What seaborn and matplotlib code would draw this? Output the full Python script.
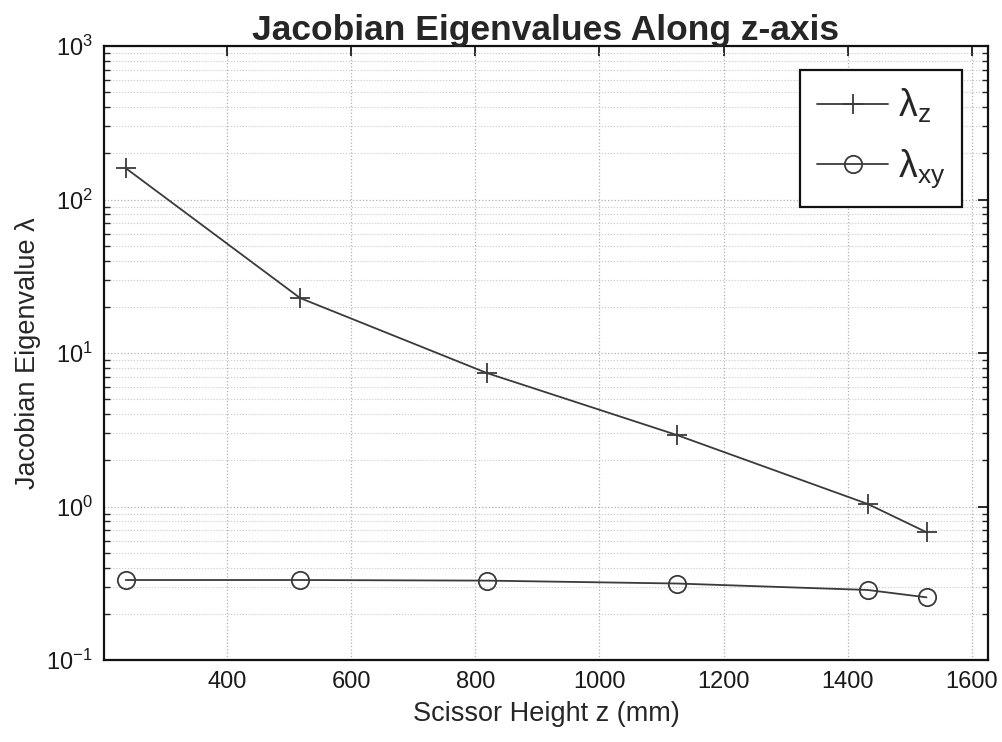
import matplotlib
matplotlib.use("Agg")
import matplotlib.pyplot as plt
import seaborn as sns
import pandas as pd
from matplotlib.ticker import LogLocator, LogFormatterMathtext

height_mm = [237, 518, 819, 1125, 1432, 1527]
lambda_z = [160, 22.8, 7.4, 2.92, 1.04, 0.68]
lambda_xy = [0.332, 0.332, 0.329, 0.315, 0.286, 0.256]
x_ticks = [400, 600, 800, 1000, 1200, 1400, 1600]
series_labels = ["λ$_{\\mathrm{z}}$", "λ$_{\\mathrm{xy}}$"]

sns.set_theme(style="white")
plt.rcParams['font.family'] = ['Liberation Sans', 'DejaVu Sans']
plt.rcParams['mathtext.fontset'] = 'custom'
plt.rcParams['mathtext.rm'] = 'Liberation Sans'
plt.rcParams['mathtext.it'] = 'Liberation Sans:italic'
plt.rcParams['mathtext.bf'] = 'Liberation Sans:bold'

df_z = pd.DataFrame({"z": height_mm, "val": lambda_z})
df_xy = pd.DataFrame({"z": height_mm, "val": lambda_xy})

fig = plt.figure(figsize=(10.03, 7.42), dpi=100)
ax = fig.add_axes([0.1037, 0.1105, 0.8813, 0.8275])

line_col = "#3a3a3a"
sns.lineplot(data=df_z, x="z", y="val", ax=ax, color=line_col, marker="+",
             markersize=14, linewidth=1.3, markeredgewidth=1.3,
             markeredgecolor=line_col, label=series_labels[0])
sns.lineplot(data=df_xy, x="z", y="val", ax=ax, color=line_col, marker="o",
             markersize=12.5, linewidth=1.3, markeredgewidth=1.3,
             markerfacecolor="none", markeredgecolor=line_col, label=series_labels[1])

ax.set_yscale("log")
ax.set_ylim(0.1, 1000)
ax.set_xlim(202, 1626)
ax.set_xticks(x_ticks)
ax.yaxis.set_major_locator(LogLocator(base=10, numticks=10))
ax.yaxis.set_minor_locator(LogLocator(base=10, subs=range(2, 10), numticks=50))
ax.yaxis.set_major_formatter(LogFormatterMathtext())

ax.grid(True, which="major", color="#b0b0b0", linestyle=":", linewidth=0.9)
ax.grid(True, which="minor", axis="y", color="#c8c8c8", linestyle=":", linewidth=0.8)

ax.tick_params(axis="both", which="major", direction="in", length=7, width=1.3,
               top=True, right=True, labelsize=17, pad=8, colors="#1a1a1a")
ax.tick_params(axis="y", which="minor", direction="in", length=4, width=1.0,
               left=True, right=True)
for s in ax.spines.values():
    s.set_color("#111111")
    s.set_linewidth(1.6)

ax.set_title("Jacobian Eigenvalues Along z-axis", fontsize=25.5, fontweight="bold", pad=4)
ax.set_xlabel("Scissor Height z (mm)", fontsize=19.5, labelpad=6)
ax.set_ylabel("Jacobian Eigenvalue λ", fontsize=19.5, labelpad=4)

leg = ax.legend(loc="upper right", fontsize=27, frameon=True, fancybox=False,
                framealpha=1, edgecolor="#111111", handlelength=1.9,
                borderpad=0.45, labelspacing=0.6, handletextpad=0.25,
                borderaxespad=0, bbox_to_anchor=(0.9706, 0.961))
leg.get_frame().set_linewidth(1.6)

fig.savefig("out.png", dpi=100)
